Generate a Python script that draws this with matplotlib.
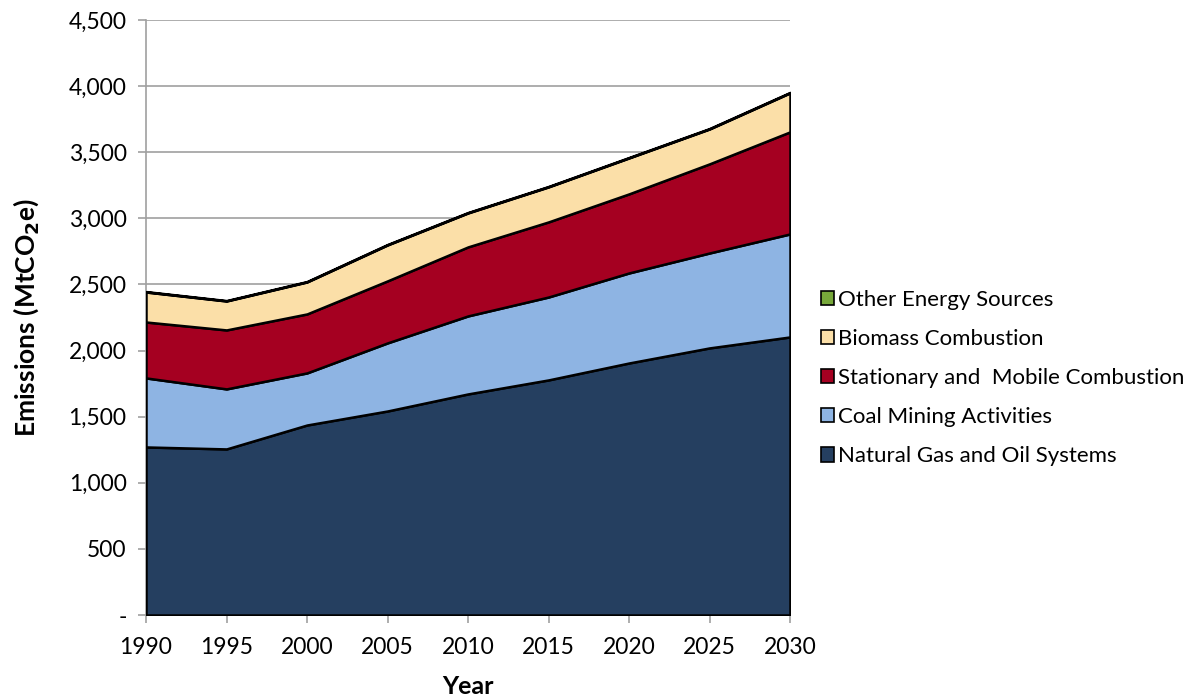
import matplotlib
matplotlib.use("Agg")
import matplotlib.pyplot as plt
from matplotlib.patches import Patch
from matplotlib.ticker import FuncFormatter

years = [1990, 1995, 2000, 2005, 2010, 2015, 2020, 2025, 2030]
natural_gas = [1271, 1256, 1437, 1543, 1672, 1778, 1906, 2020, 2103]
coal_mining = [522, 454, 394, 515, 590, 627, 681, 718, 779]
stationary = [423, 446, 446, 469, 522, 568, 598, 674, 772]
biomass = [227, 219, 242, 272, 257, 265, 272, 264, 295]
other = [3, 3, 3, 3, 3, 3, 3, 3, 3]

labels = ["Natural Gas and Oil Systems", "Coal Mining Activities",
          "Stationary and  Mobile Combustion", "Biomass Combustion",
          "Other Energy Sources"]
colors = ["#253F60", "#8EB4E3", "#A50021", "#FBDFA8", "#77A83A"]

plt.rcParams['font.family'] = ['Lato', 'DejaVu Sans']

fig = plt.figure(figsize=(11.85, 6.98), dpi=100)
ax = fig.add_axes([146/1185, 83/698, (790-146)/1185, (615-20)/698])

ax.stackplot(years, natural_gas, coal_mining, stationary, biomass, other,
             colors=colors, edgecolor="black", linewidth=1.8, zorder=3)

ax.set_xlim(1990, 2030)
ax.set_ylim(0, 4500)
ax.set_xticks(years)
ax.set_yticks(range(0, 4501, 500))
ax.yaxis.set_major_formatter(FuncFormatter(lambda v, p: "-" if v == 0 else f"{int(v):,}"))
ax.grid(axis="y", color="#A0A0A0", linewidth=1.2, zorder=0)
for s in ["top", "right"]:
    ax.spines[s].set_visible(False)
for s in ["left", "bottom"]:
    ax.spines[s].set_color("#A0A0A0")
    ax.spines[s].set_linewidth(1.2)
ax.tick_params(axis="both", colors="#A0A0A0", labelcolor="black", labelsize=16.5,
               length=6, width=1.2, direction="out")
ax.tick_params(axis="y", pad=8)
ax.tick_params(axis="x", pad=10)

ax.set_xlabel("Year", fontsize=18, fontweight="bold", labelpad=12)
ax.set_ylabel("Emissions (MtCO$_\\mathbf{2}$e)", fontsize=19, fontweight="bold", labelpad=20)

handles = [Patch(facecolor=c, edgecolor="black", linewidth=1.2, label=l)
           for c, l in zip(colors, labels)][::-1]
fig.legend(handles=handles, loc="upper left", bbox_to_anchor=(812/1185, 1 - 281/698),
           frameon=False, fontsize=16, handlelength=0.6, handleheight=0.6,
           handletextpad=0.15, labelspacing=0.86, borderaxespad=0)

fig.savefig("out.png", dpi=100)
